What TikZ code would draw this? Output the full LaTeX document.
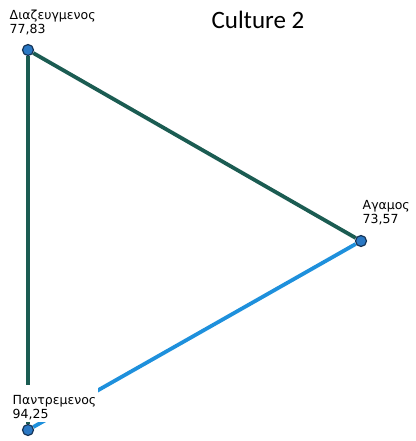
\documentclass[tikz,border=0pt]{standalone}
\usepackage{fontspec}
\setmainfont{DejaVu Sans}
\newfontfamily\titlefont{Carlito}
\usetikzlibrary{backgrounds}
\definecolor{cteal}{RGB}{27,92,82}
\definecolor{cblue}{RGB}{30,144,220}
\definecolor{cdot}{RGB}{42,120,196}
\definecolor{cdotline}{RGB}{22,52,86}

\begin{document}
\begin{tikzpicture}[
    x=1pt, y=-1pt,
    dot/.style={circle, draw=cdotline, fill=cdot, line width=1.2pt, minimum size=11pt, inner sep=0pt},
    lbl/.style={anchor=north west, fill=white, inner sep=1.5pt, align=left, font=\fontsize{12.5}{14}\selectfont},
    link/.style={line width=3.8pt},
]
    \useasboundingbox (0,0) rectangle (415,441);

    \node[font=\titlefont\fontsize{25}{28}\selectfont, anchor=base] (title) at (258,29) {Culture 2};

    % category points
    \node[dot] (diaz) at (28,50) {};
    \node[dot] (agam) at (361,241) {};
    \node[dot] (pant) at (28,430) {};

    \begin{scope}[on background layer]
        \draw[link, cteal] (diaz) -- (agam);
        \draw[link, cteal] (diaz) -- (pant);
        \draw[link, cblue] (agam) -- (pant);
    \end{scope}

    \node[lbl] (diazlbl) at (8,8) {Διαζευγμενος\\77,83};
    \node[lbl] (agamlbl) at (361,199) {Αγαμος\\73,57};
    \node[lbl] (pantlbl) at (11,385) {\rule{0pt}{18pt}Παντρεμενος\\94,25};
\end{tikzpicture}
\end{document}
